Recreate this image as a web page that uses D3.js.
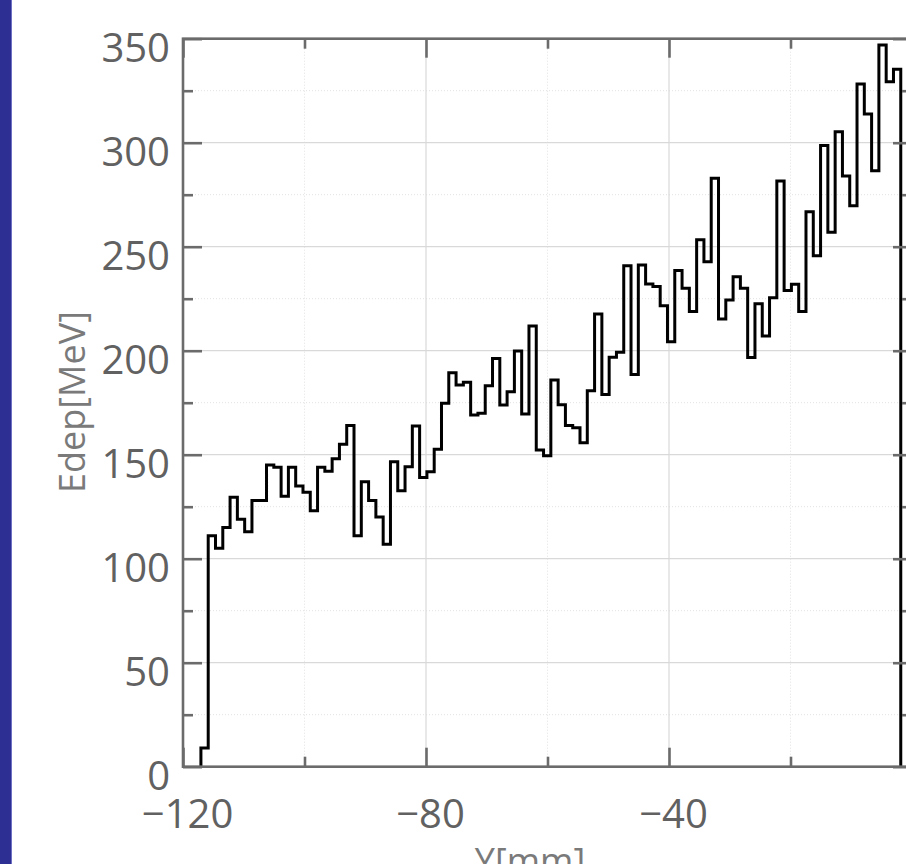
<!DOCTYPE html>
<html>
<head>
<meta charset="utf-8">
<script src="https://cdn.jsdelivr.net/npm/d3@7"></script>
<style>
  body { margin: 0; background: #fff; }
  svg { display: block; }
</style>
</head>
<body>
<div class="center"></div>
<script>
// histogram of deposited energy along Y
var binStart = -117.05,   // left edge of first bin [mm]
    binWidth = 1.2;       // [mm]

var binValues = [
  9, 111, 105, 115, 129.5, 119, 113, 128, 128, 145,
  144, 130, 144, 135, 132, 123, 144, 142, 148, 155,
  164, 111, 137, 128, 120, 107, 146.6, 132.7, 144.2, 163.8,
  139, 141.8, 152.6, 174.7, 189.4, 183.5, 184.8, 169.1, 169.9, 183.2,
  196.3, 173.9, 180.3, 199.9, 169.6, 211.9, 152.3, 149.5, 185.9, 174,
  164, 163, 155.8, 180.8, 217.6, 179, 196.8, 199.2, 240.9, 188.6,
  241.2, 232.1, 230.9, 221.6, 204.3, 238.6, 230, 218.8, 253.4, 242.8,
  282.9, 215.2, 224.4, 235.5, 230, 196.7, 222.6, 207.1, 225.5, 281.6,
  228.9, 231.9, 218.8, 266.8, 245.7, 298.6, 256.9, 305.3, 284, 269.7,
  328.2, 313.8, 286.5, 347, 329.3, 335.3
];

var xMajor = [-120, -80, -40, 0],
    xMinor = [-100, -60, -20],
    yMajor = [0, 50, 100, 150, 200, 250, 300, 350],
    yMinor = [25, 75, 125, 175, 225, 275, 325];

var xLabel = "Y[mm]",
    yLabel = "Edep[MeV]";

var FONT = "'Open Sans', 'Noto Sans', sans-serif";
var W = 906, H = 864;
var x = d3.scaleLinear().domain([-120, 0]).range([183, 912]);
var y = d3.scaleLinear().domain([0, 350]).range([766.7, 38.7]);

var svg = d3.select("div.center").append("svg")
    .attr("width", W)
    .attr("height", H)
    .attr("font-family", FONT);

// blue strip at the left
svg.append("rect").attr("x", 0).attr("y", 0).attr("width", 11).attr("height", H)
    .attr("fill", "#2d2f92");
svg.append("rect").attr("x", 11).attr("y", 0).attr("width", 1).attr("height", H)
    .attr("fill", "#6f72c4");

var gridColor = "#d9d9d9", minorColor = "#e2e2e2", axisColor = "#6b6b6b";

// minor grid (dotted)
svg.selectAll(".mgy").data(yMinor).enter().append("line")
    .attr("x1", x(-120)).attr("x2", x(0))
    .attr("y1", function(d) { return y(d); }).attr("y2", function(d) { return y(d); })
    .attr("stroke", minorColor).attr("stroke-width", 1).attr("stroke-dasharray", "1,2");
svg.selectAll(".mgx").data(xMinor).enter().append("line")
    .attr("y1", y(0)).attr("y2", y(350))
    .attr("x1", function(d) { return x(d); }).attr("x2", function(d) { return x(d); })
    .attr("stroke", minorColor).attr("stroke-width", 1).attr("stroke-dasharray", "1,2");

// major grid
svg.selectAll(".gy").data(yMajor).enter().append("line")
    .attr("x1", x(-120)).attr("x2", x(0))
    .attr("y1", function(d) { return y(d); }).attr("y2", function(d) { return y(d); })
    .attr("stroke", gridColor).attr("stroke-width", 1.2);
svg.selectAll(".gx").data(xMajor).enter().append("line")
    .attr("y1", y(0)).attr("y2", y(350))
    .attr("x1", function(d) { return x(d); }).attr("x2", function(d) { return x(d); })
    .attr("stroke", gridColor).attr("stroke-width", 1.2);

// stairs line
var pts = [[binStart, 0]];
binValues.forEach(function(v, i) {
    var x0 = binStart + i * binWidth;
    pts.push([x0, v]);
    pts.push([x0 + binWidth, v]);
});
pts.push([binStart + binValues.length * binWidth, 0]);

var line = d3.line()
    .x(function(d) { return x(d[0]); })
    .y(function(d) { return y(d[1]); });

svg.append("path")
    .datum(pts)
    .attr("d", line)
    .attr("fill", "none")
    .attr("stroke", "#000")
    .attr("stroke-width", 3)
    .attr("stroke-linejoin", "miter");

// axes (ticks pointing inward)
function styleAxis(g) {
    g.attr("font-family", FONT).attr("font-size", 40);
    g.select(".domain").remove();
    g.selectAll(".tick line").attr("stroke", axisColor).attr("stroke-width", 2.6);
    g.selectAll("text").attr("fill", "#616161");
}

svg.append("g")
    .attr("transform", "translate(" + x(-120) + ",0)")
    .call(d3.axisLeft(y).tickValues(yMajor).tickSize(-19).tickPadding(13))
    .call(styleAxis)
    .selectAll("text").attr("dy", "0.57em");
svg.append("g")
    .attr("transform", "translate(" + x(-120) + ",0)")
    .call(d3.axisLeft(y).tickValues(yMinor).tickSize(-10).tickFormat(""))
    .call(styleAxis);
svg.append("g")
    .attr("transform", "translate(" + x(0) + ",0)")
    .call(d3.axisRight(y).tickValues(yMajor).tickSize(-19).tickFormat(""))
    .call(styleAxis);
svg.append("g")
    .attr("transform", "translate(" + x(0) + ",0)")
    .call(d3.axisRight(y).tickValues(yMinor).tickSize(-10).tickFormat(""))
    .call(styleAxis);

svg.append("g")
    .attr("transform", "translate(0," + y(0) + ")")
    .call(d3.axisBottom(x).tickValues(xMajor).tickSize(-19).tickPadding(33))
    .call(styleAxis)
    .selectAll("text").attr("dx", 4);
svg.append("g")
    .attr("transform", "translate(0," + y(0) + ")")
    .call(d3.axisBottom(x).tickValues(xMinor).tickSize(-10).tickFormat(""))
    .call(styleAxis);
svg.append("g")
    .attr("transform", "translate(0," + y(350) + ")")
    .call(d3.axisTop(x).tickValues(xMajor).tickSize(-19).tickFormat(""))
    .call(styleAxis);
svg.append("g")
    .attr("transform", "translate(0," + y(350) + ")")
    .call(d3.axisTop(x).tickValues(xMinor).tickSize(-10).tickFormat(""))
    .call(styleAxis);

// box
svg.append("rect")
    .attr("x", x(-120)).attr("y", y(350))
    .attr("width", x(0) - x(-120)).attr("height", y(0) - y(350))
    .attr("fill", "none").attr("stroke", axisColor).attr("stroke-width", 2.6);

// axis labels
svg.append("text")
    .attr("transform", "translate(85,402) rotate(-90)")
    .attr("text-anchor", "middle")
    .attr("font-size", 36)
    .attr("fill", "#7a7a7a")
    .text(yLabel);

svg.append("text")
    .attr("x", 530).attr("y", 874)
    .attr("text-anchor", "middle")
    .attr("font-size", 36)
    .attr("fill", "#7a7a7a")
    .text(xLabel);
</script>
</body>
</html>
